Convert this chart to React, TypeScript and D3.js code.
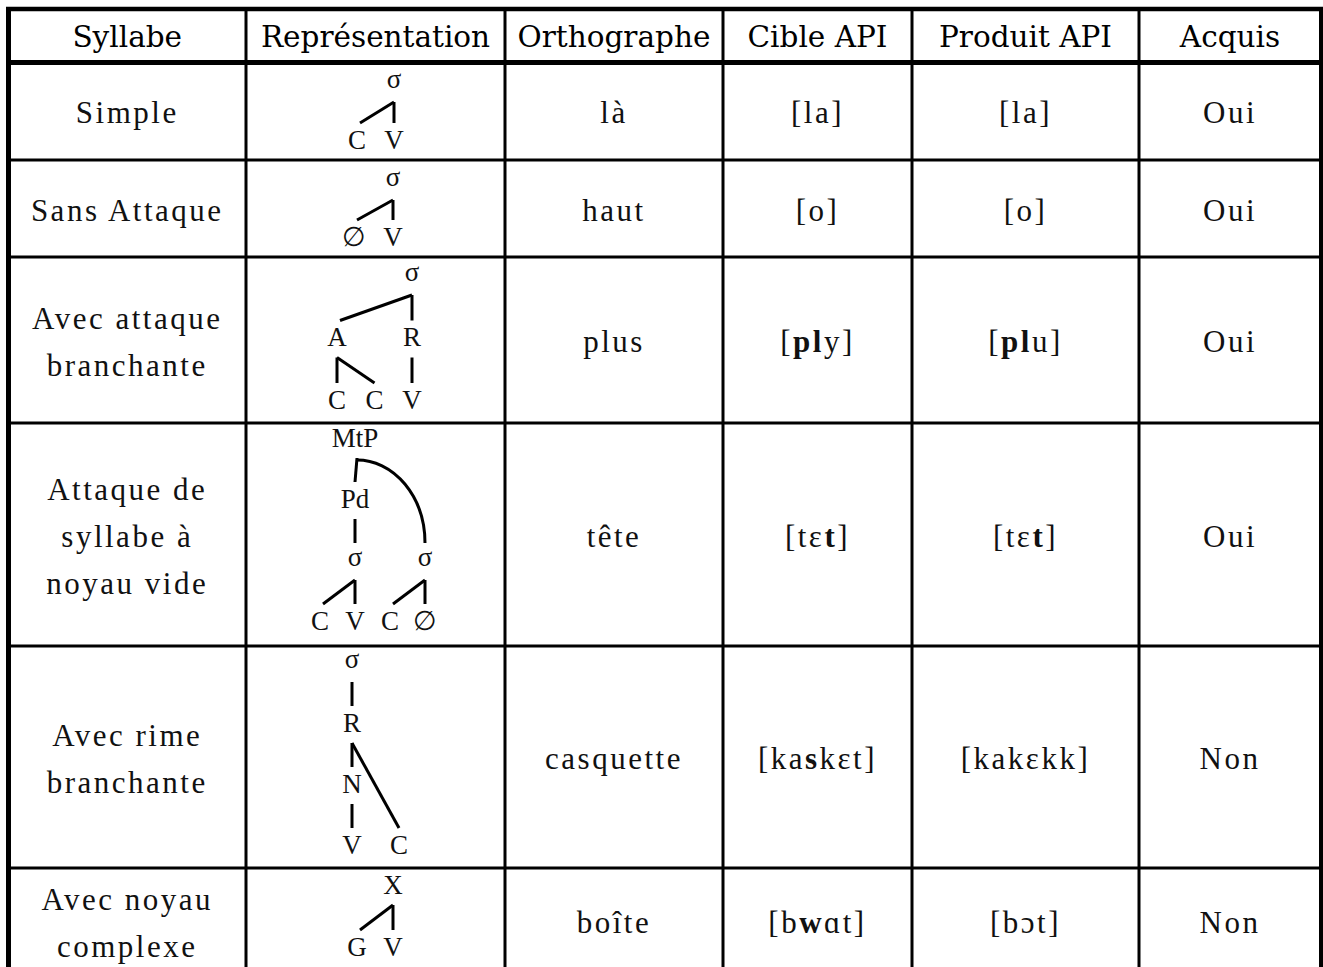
import React from 'react';
import * as d3 from 'd3';

// table content
const headers = ['Syllabe', 'Représentation', 'Orthographe', 'Cible API', 'Produit API', 'Acquis'];
const syllabes = [
  ['Simple'],
  ['Sans Attaque'],
  ['Avec attaque', 'branchante'],
  ['Attaque de', 'syllabe à', 'noyau vide'],
  ['Avec rime', 'branchante'],
  ['Avec noyau', 'complexe'],
];
const orthographes = ['là', 'haut', 'plus', 'tête', 'casquette', 'boîte'];
// **x** marks the bold segment
const ciblesAPI = ['[la]', '[o]', '[**pl**y]', '[tɛ**t**]', '[ka**s**kɛt]', '[b**w**ɑt]'];
const produitsAPI = ['[la]', '[o]', '[**pl**u]', '[tɛ**t**]', '[kakɛkk]', '[bɔt]'];
const acquis = ['Oui', 'Oui', 'Oui', 'Oui', 'Non', 'Non'];

// syllable trees: slot = horizontal position index, level = depth
const trees = [
  {
    nodes: [
      { id: 's', label: 'σ', slot: 1, level: 0 },
      { id: 'c', label: 'C', slot: 0, level: 1 },
      { id: 'v', label: 'V', slot: 1, level: 1 },
    ],
    edges: [['s', 'c'], ['s', 'v']],
  },
  {
    nodes: [
      { id: 's', label: 'σ', slot: 1, level: 0 },
      { id: 'o', label: '∅', slot: 0, level: 1 },
      { id: 'v', label: 'V', slot: 1, level: 1 },
    ],
    edges: [['s', 'o'], ['s', 'v']],
  },
  {
    nodes: [
      { id: 's', label: 'σ', slot: 2, level: 0 },
      { id: 'a', label: 'A', slot: 0, level: 1 },
      { id: 'r', label: 'R', slot: 2, level: 1 },
      { id: 'c1', label: 'C', slot: 0, level: 2 },
      { id: 'c2', label: 'C', slot: 1, level: 2 },
      { id: 'v', label: 'V', slot: 2, level: 2 },
    ],
    edges: [['s', 'a'], ['s', 'r'], ['a', 'c1'], ['a', 'c2'], ['r', 'v']],
  },
  {
    nodes: [
      { id: 'm', label: 'MtP', slot: 1, level: 0 },
      { id: 'pd', label: 'Pd', slot: 1, level: 1 },
      { id: 's1', label: 'σ', slot: 1, level: 2 },
      { id: 's2', label: 'σ', slot: 3, level: 2 },
      { id: 'c1', label: 'C', slot: 0, level: 3 },
      { id: 'v1', label: 'V', slot: 1, level: 3 },
      { id: 'c2', label: 'C', slot: 2, level: 3 },
      { id: 'o', label: '∅', slot: 3, level: 3 },
    ],
    edges: [['m', 'pd'], ['m', 's2', 'arc'], ['pd', 's1'], ['s1', 'c1'], ['s1', 'v1'], ['s2', 'c2'], ['s2', 'o']],
  },
  {
    nodes: [
      { id: 's', label: 'σ', slot: 0, level: 0 },
      { id: 'r', label: 'R', slot: 0, level: 1 },
      { id: 'n', label: 'N', slot: 0, level: 2 },
      { id: 'v', label: 'V', slot: 0, level: 3 },
      { id: 'c', label: 'C', slot: 1, level: 3 },
    ],
    edges: [['s', 'r'], ['r', 'n'], ['r', 'c'], ['n', 'v']],
  },
  {
    nodes: [
      { id: 'x', label: 'X', slot: 1, level: 0 },
      { id: 'g', label: 'G', slot: 0, level: 1 },
      { id: 'v', label: 'V', slot: 1, level: 1 },
    ],
    edges: [['x', 'g'], ['x', 'v']],
  },
];

const W = 1323;
const H = 967;
const colEdges = [8.5, 246, 505, 723, 912, 1139, 1321];
const rowEdges = [9, 62.5, 160, 257, 423, 646, 868, 974];
// per-row tree placement: [x of slot 0, slot step, y of level 0, level step]
const treeLayout = [
  [357, 37, 82, 58],
  [354, 39, 180, 57],
  [337, 37.5, 275, 62.5],
  [320, 35, 438, 61],
  [352, 47, 662, 61],
  [357, 36, 885, 62],
];

const bodyFont = '"Liberation Serif", "Times New Roman", serif';
const headFont = '"DejaVu Serif", serif';
const BODY_SIZE = 31;
const TREE_SIZE = 27;
const LINE_H = 47;

const parseBold = (s: string) =>
  s.split('**').map((t, i) => ({ t, bold: i % 2 === 1 })).filter(d => d.t.length);

const colCenter = (i: number) => (colEdges[i] + colEdges[i + 1]) / 2;
const rowCenter = (i: number) => (rowEdges[i + 1] + rowEdges[i + 2]) / 2 + 2;

function CellText({ x, cy, lines }: { x: number; cy: number; lines: string[] }) {
  const y0 = cy - ((lines.length - 1) * LINE_H) / 2;
  return (
    <g>
      {lines.map((ln, k) => (
        <text
          key={k}
          x={x}
          y={y0 + k * LINE_H + BODY_SIZE * 0.33}
          textAnchor="middle"
          fontFamily={bodyFont}
          fontSize={BODY_SIZE}
          letterSpacing={2.5}
          fill="#111"
        >
          {parseBold(ln).map((seg, j) => (
            <tspan key={j} fontWeight={seg.bold ? 'bold' : 'normal'}>{seg.t}</tspan>
          ))}
        </text>
      ))}
    </g>
  );
}

function Tree({ tree, layout }: { tree: any; layout: number[] }) {
  const [x0, dx, y0, dy] = layout;
  const maxSlot = d3.max(tree.nodes, (n: any) => n.slot) as number;
  const maxLevel = d3.max(tree.nodes, (n: any) => n.level) as number;
  const sx = d3.scaleLinear().domain([0, Math.max(1, maxSlot)]).range([x0, x0 + dx * Math.max(1, maxSlot)]);
  const sy = d3.scaleLinear().domain([0, maxLevel]).range([y0, y0 + dy * maxLevel]);
  const byId = new Map(tree.nodes.map((n: any) => [n.id, n]));
  const line = d3.line();

  return (
    <g>
      {tree.edges.map(([a, b, kind]: string[], i: number) => {
        const p: any = byId.get(a);
        const c: any = byId.get(b);
        const px = sx(p.slot);
        const py = sy(p.level) + 20;
        const cx = sx(c.slot);
        const cyy = sy(c.level) - 17;
        if (kind === 'arc') {
          const rx = cx - px - 2;
          const ry = cyy - py - 2;
          const d = `M${px + 2},${py + 2} A${rx},${ry} 0 0 1 ${cx},${cyy}`;
          return <path key={i} d={d} fill="none" stroke="#000" strokeWidth={3} />;
        }
        const ex = cx < px ? cx + 3 : cx;
        const sxp = p.label === 'MtP' ? px + 2 : px;
        return (
          <path
            key={i}
            d={line([[sxp, py], [ex, cyy]]) as string}
            fill="none"
            stroke="#000"
            strokeWidth={3}
          />
        );
      })}
      {tree.nodes.map((n: any) => (
        <text
          key={n.id}
          x={sx(n.slot)}
          y={sy(n.level) + (n.label === 'σ' ? 0.24 : 0.33) * TREE_SIZE}
          textAnchor="middle"
          fontFamily={bodyFont}
          fontSize={TREE_SIZE}
          fill="#111"
        >
          {n.label}
        </text>
      ))}
    </g>
  );
}

export default function App() {
  const nRows = orthographes.length;
  const rows = d3.range(nRows);
  return (
    <div style={{ position: 'absolute', left: 0, top: 0, width: W, height: H, overflow: 'hidden', background: '#fff' }}>
      <svg width={W} height={H} style={{ display: 'block' }}>
        <rect width={W} height={H} fill="#fff" />
        {/* header */}
        {headers.map((h, i) => (
          <text
            key={h}
            x={colCenter(i)}
            y={(rowEdges[0] + rowEdges[1]) / 2 + 11}
            textAnchor="middle"
            fontFamily={headFont}
            fontSize={29.5}
            fill="#000"
          >
            {h}
          </text>
        ))}
        {rows.map(r => (
          <g key={r}>
            <CellText x={colCenter(0)} cy={rowCenter(r)} lines={syllabes[r]} />
            <Tree tree={trees[r]} layout={treeLayout[r]} />
            <CellText x={colCenter(2)} cy={rowCenter(r)} lines={[orthographes[r]]} />
            <CellText x={colCenter(3)} cy={rowCenter(r)} lines={[ciblesAPI[r]]} />
            <CellText x={colCenter(4)} cy={rowCenter(r)} lines={[produitsAPI[r]]} />
            <CellText x={colCenter(5)} cy={rowCenter(r)} lines={[acquis[r]]} />
          </g>
        ))}
        {/* grid */}
        {rowEdges.slice(2, -1).map(y => (
          <line key={'h' + y} x1={colEdges[0]} x2={colEdges[6]} y1={y} y2={y} stroke="#000" strokeWidth={3} />
        ))}
        {colEdges.slice(1, -1).map(x => (
          <line key={'v' + x} x1={x} x2={x} y1={rowEdges[0]} y2={H} stroke="#000" strokeWidth={3} />
        ))}
        <line x1={colEdges[0]} x2={colEdges[6]} y1={rowEdges[1]} y2={rowEdges[1]} stroke="#000" strokeWidth={5} />
        <line x1={colEdges[0] - 2.5} x2={colEdges[6] + 2} y1={rowEdges[0]} y2={rowEdges[0]} stroke="#000" strokeWidth={4.5} />
        <line x1={colEdges[0]} x2={colEdges[0]} y1={rowEdges[0]} y2={H} stroke="#000" strokeWidth={5} />
        <line x1={colEdges[6]} x2={colEdges[6]} y1={rowEdges[0]} y2={H} stroke="#000" strokeWidth={4} />
      </svg>
    </div>
  );
}
